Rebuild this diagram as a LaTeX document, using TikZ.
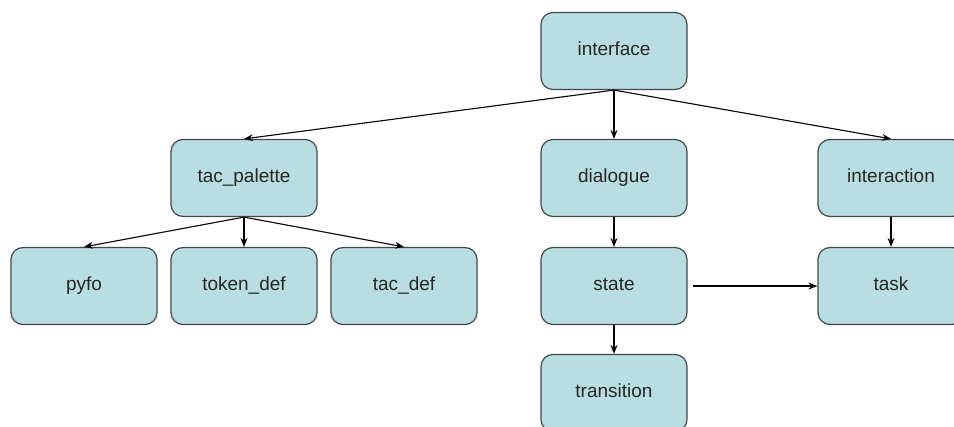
\documentclass[tikz,border=0pt]{standalone}
\usepackage{fontspec}
\setmainfont{Liberation Sans}
\usetikzlibrary{arrows.meta}
\definecolor{boxfill}{RGB}{184,222,226}
\definecolor{boxline}{RGB}{68,72,74}
\tikzset{
    box/.style={draw=boxline, fill=boxfill, rounded corners=12pt, line width=1.2pt,
        minimum width=146pt, minimum height=77pt, text=black!85,
        text height=13pt, text depth=4pt,
        font=\fontsize{19}{22}\selectfont},
}
\begin{document}
\begin{tikzpicture}[>={Stealth[length=9pt,width=7pt]}, x=1pt, y=-1pt, line width=1.1pt]
\clip (0,0) rectangle (954,427);

\node[box] (interface) at (614,51) {interface};

\node[box] (tac_palette) at (244,178) {tac\_palette};
\node[box] (dialogue) at (614,178) {dialogue};
\node[box] (interaction) at (891,178) {interaction};

\node[box] (pyfo) at (84,286) {pyfo};
\node[box] (token_def) at (244,286) {token\_def};
\node[box] (tac_def) at (404,286) {tac\_def};
\node[box] (state) at (614,286) {state};
\node[box] (task) at (891,286) {task};

\node[box] (transition) at (614,393) {transition};

\foreach \c in {tac_palette, dialogue, interaction}
{
    \draw[->](interface.south)--(\c.north);
}
\foreach \c in {pyfo, token_def, tac_def}
{
    \draw[->](tac_palette.south)--(\c.north);
}
\draw[->](dialogue)--(state);
\draw[->](state)--(transition);
\draw[->](interaction)--(task);
\draw[->, shorten <=5pt](state.east)--(task.west);
\end{tikzpicture}
\end{document}
